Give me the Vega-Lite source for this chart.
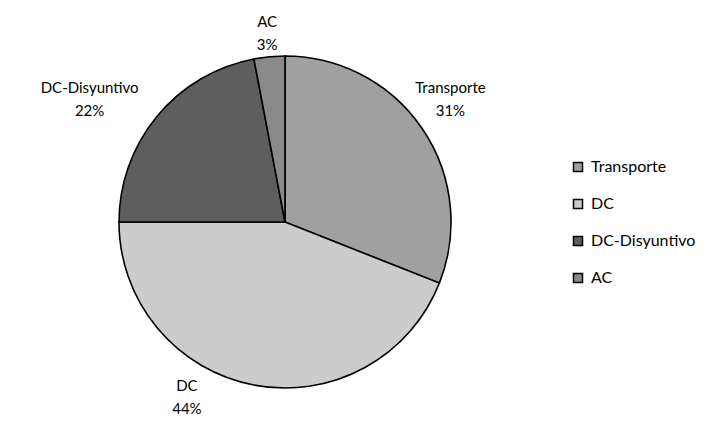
{
  "$schema": "https://vega.github.io/schema/vega-lite/v6.json",
  "autosize": "none",
  "width": 570,
  "height": 410,
  "padding": {"top": 17, "left": 0, "right": 147, "bottom": 0},
  "background": "white",
  "config": {"view": {"stroke": null}, "font": "Lato"},
  "data": {"values": [
    {"cat": "Transporte", "pct": 31, "k": 1},
    {"cat": "DC", "pct": 44, "k": 2},
    {"cat": "DC-Disyuntivo", "pct": 22, "k": 3},
    {"cat": "AC", "pct": 3, "k": 4}
  ]},
  "transform": [{"calculate": "datum.cat + '\\n' + datum.pct + '%'", "as": "lbl"}],
  "encoding": {
    "theta": {"field": "pct", "type": "quantitative", "stack": true},
    "order": {"field": "k", "type": "quantitative"}
  },
  "layer": [
    {
      "mark": {"type": "arc", "outerRadius": 166, "stroke": "black", "strokeWidth": 1.6},
      "encoding": {
        "color": {
          "field": "cat", "type": "nominal",
          "scale": {"domain": ["Transporte", "DC", "DC-Disyuntivo", "AC"], "range": ["#a0a0a0", "#cccccc", "#5e5e5e", "#8a8a8a"]},
          "legend": {
            "title": null, "orient": "none", "legendX": 570, "legendY": 142,
            "symbolType": "square", "symbolSize": 81, "symbolStrokeColor": "black", "symbolStrokeWidth": 1.5,
            "labelFontSize": 16, "labelFont": "Lato", "labelColor": "black", "labelOffset": 5,
            "rowPadding": 21, "padding": 0
          }
        }
      }
    },
    {
      "mark": {"type": "text", "radius": 200, "dy": -22, "lineBreak": "\n", "lineHeight": 23, "fontSize": 15, "font": "Lato", "color": "black"},
      "encoding": {"text": {"condition": {"test": "datum.cat === 'Transporte'", "field": "lbl"}, "value": ""}}
    },
    {
      "mark": {"type": "text", "radius": 182, "dx": -64, "dy": -15, "lineBreak": "\n", "lineHeight": 23, "fontSize": 15, "font": "Lato", "color": "black"},
      "encoding": {"text": {"condition": {"test": "datum.cat === 'DC'", "field": "lbl"}, "value": ""}}
    },
    {
      "mark": {"type": "text", "radius": 225, "dx": -22, "dy": 9, "lineBreak": "\n", "lineHeight": 23, "fontSize": 15, "font": "Lato", "color": "black"},
      "encoding": {"text": {"condition": {"test": "datum.cat === 'DC-Disyuntivo'", "field": "lbl"}, "value": ""}}
    },
    {
      "mark": {"type": "text", "radius": 190, "dy": -11, "lineBreak": "\n", "lineHeight": 23, "fontSize": 15, "font": "Lato", "color": "black"},
      "encoding": {"text": {"condition": {"test": "datum.cat === 'AC'", "field": "lbl"}, "value": ""}}
    }
  ]
}
